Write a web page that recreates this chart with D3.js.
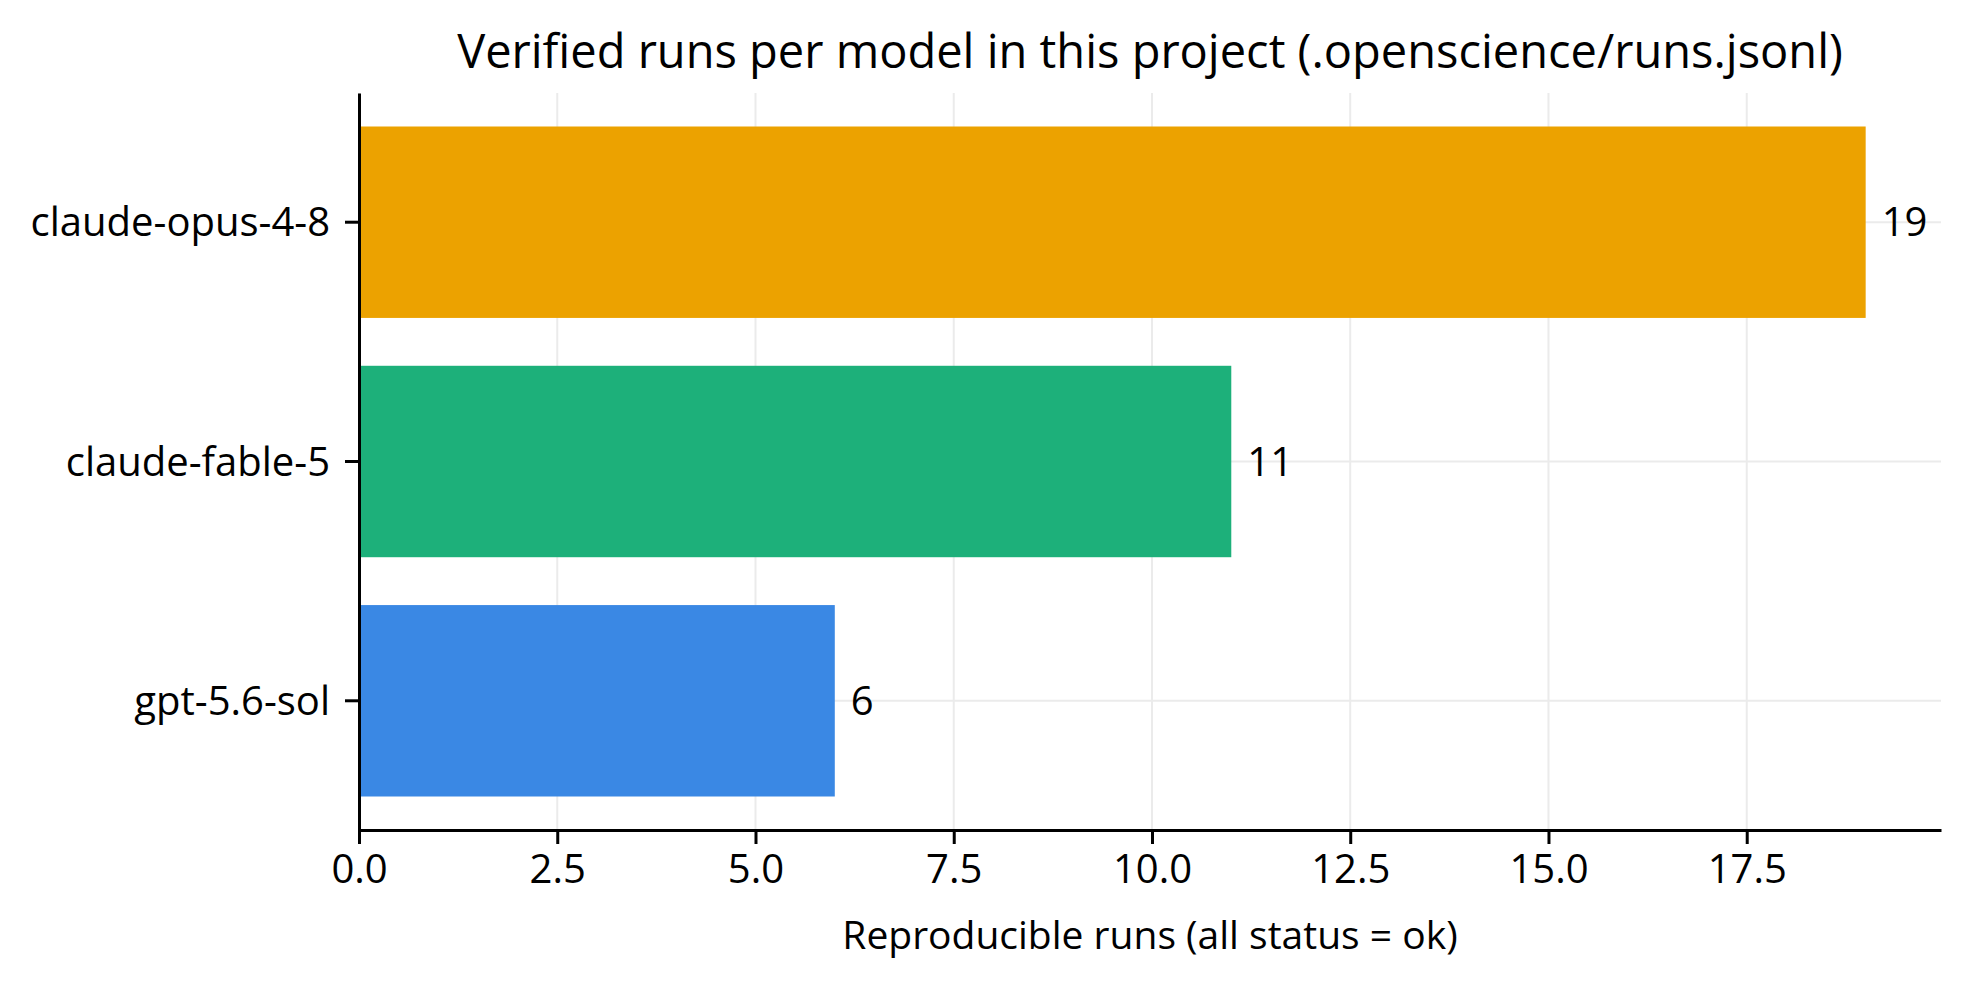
<!DOCTYPE html>
<html>
<head>
<meta charset="utf-8">
<script src="https://cdn.jsdelivr.net/npm/d3@7"></script>
<style>
  body { margin: 0; background: #fff; }
  text { font-family: "Open Sans", "Noto Sans", sans-serif; fill: #000; }
</style>
</head>
<body>
<div id="wrapper"></div>
<script>
const models = ["claude-opus-4-8", "claude-fable-5", "gpt-5.6-sol"]
const runs = [19, 11, 6]
const xTicks = [0, 2.5, 5, 7.5, 10, 12.5, 15, 17.5]
const title = "Verified runs per model in this project (.openscience/runs.jsonl)"
const xLabel = "Reproducible runs (all status = ok)"

const barColors = ["#eca200", "#1db07a", "#3a88e4"]

function drawBarChart() {
    let dimensions = {
        width: 1970,
        height: 987,
        margin: { top: 93, right: 29, bottom: 157, left: 359 },
    }
    dimensions.boundedWidth = dimensions.width - dimensions.margin.left - dimensions.margin.right
    dimensions.boundedHeight = dimensions.height - dimensions.margin.top - dimensions.margin.bottom

    const wrapper = d3.select("#wrapper")
        .append("svg")
            .attr("width", dimensions.width)
            .attr("height", dimensions.height)
    const bounds = wrapper.append("g")
        .attr("transform", `translate(${dimensions.margin.left},${dimensions.margin.top})`)

    // x scale, matplotlib style 5% margin on the right
    const xMax = d3.max(runs) * 1.05
    const xScale = d3.scaleLinear()
        .domain([0, xMax])
        .range([0, dimensions.boundedWidth])

    // y scale: bands for the models
    const yScale = d3.scaleBand()
        .domain(models)
        .range([0, dimensions.boundedHeight])
        .paddingInner(0.2)
        .paddingOuter(0.14)

    const color = d3.scaleOrdinal().domain(models).range(barColors)

    // grid
    const grid = bounds.append("g")
    grid.selectAll(".vgrid")
        .data(xTicks)
        .join("line")
            .attr("x1", d => xScale(d))
            .attr("x2", d => xScale(d))
            .attr("y1", 0)
            .attr("y2", dimensions.boundedHeight)
            .attr("stroke", "#ebebeb")
            .attr("stroke-width", 2)
    grid.selectAll(".hgrid")
        .data(models)
        .join("line")
            .attr("x1", 0)
            .attr("x2", dimensions.boundedWidth)
            .attr("y1", d => yScale(d) + yScale.bandwidth() / 2)
            .attr("y2", d => yScale(d) + yScale.bandwidth() / 2)
            .attr("stroke", "#ebebeb")
            .attr("stroke-width", 2)

    // bars
    bounds.selectAll(".bar")
        .data(models)
        .join("rect")
            .attr("x", 0)
            .attr("y", d => yScale(d))
            .attr("width", (d, i) => xScale(runs[i]))
            .attr("height", yScale.bandwidth())
            .attr("fill", d => color(d))

    // value labels
    bounds.selectAll(".val")
        .data(models)
        .join("text")
            .attr("x", (d, i) => xScale(runs[i]) + 16)
            .attr("y", d => yScale(d) + yScale.bandwidth() / 2)
            .attr("dy", "0.35em")
            .style("font-size", "40px")
            .text((d, i) => runs[i])

    // axes
    const xAxis = bounds.append("g")
        .attr("transform", `translate(0,${dimensions.boundedHeight})`)
        .call(d3.axisBottom(xScale)
            .tickValues(xTicks)
            .tickFormat(d3.format(".1f"))
            .tickSize(14)
            .tickSizeOuter(0)
            .tickPadding(11))
    const yAxis = bounds.append("g")
        .call(d3.axisLeft(yScale)
            .tickSize(14)
            .tickSizeOuter(0)
            .tickPadding(15))

    for (const ax of [xAxis, yAxis]) {
        ax.select(".domain").attr("stroke", "#000").attr("stroke-width", 3)
        ax.selectAll(".tick line").attr("stroke", "#000").attr("stroke-width", 3)
        ax.selectAll(".tick text")
            .style("font-size", "40px")
            .style("font-family", "'Open Sans', 'Noto Sans', sans-serif")
            .attr("fill", "#000")
    }
    yAxis.selectAll(".tick text").attr("dy", "0.35em")

    // x label
    bounds.append("text")
        .attr("x", dimensions.boundedWidth / 2)
        .attr("y", dimensions.boundedHeight + 119)
        .attr("text-anchor", "middle")
        .style("font-size", "39px")
        .text(xLabel)

    // title
    wrapper.append("text")
        .attr("x", dimensions.margin.left + dimensions.boundedWidth / 2)
        .attr("y", 68)
        .attr("text-anchor", "middle")
        .style("font-size", "47px")
        .text(title)
}
drawBarChart()
</script>
</body>
</html>
